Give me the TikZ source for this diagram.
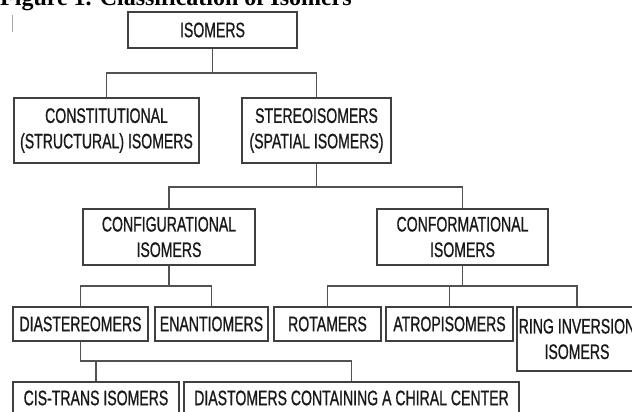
\documentclass[tikz,border=0pt]{standalone}
\usepackage{fontspec}
\newfontfamily\boxfont[FakeStretch=0.67,FakeBold=0.8]{Liberation Sans}
\newfontfamily\titlefont{Liberation Serif}
\begin{document}
\begin{tikzpicture}[x=1pt,y=-1pt,
  box/.style={draw=black!75, line width=1.4pt, rectangle, inner sep=0pt, align=center,
    text=black!90, font=\boxfont\fontsize{21}{25.5}\selectfont},
  link/.style={draw=black!68, line width=1.3pt}]
\useasboundingbox (0,0) rectangle (632,412);
\clip (0,0) rectangle (632,412);
\fill[white] (0,0) rectangle (632,412);
% title (cut at the top)
\node[anchor=base west, inner sep=0pt, font=\titlefont\bfseries\fontsize{24}{28}\selectfont] (title) at (0,6) {Figure 1. Classification of Isomers};
\draw[black!35, line width=1pt] (12,15) -- (12,32);
% boxes
\node[box, minimum width=169pt, minimum height=36pt] (iso) at (212.5,30) {ISOMERS};
\node[box, minimum width=185pt, minimum height=65pt] (cons) at (106.5,130.5) {CONSTITUTIONAL\\(STRUCTURAL) ISOMERS};
\node[box, minimum width=149pt, minimum height=65pt] (stereo) at (316.5,130.5) {STEREOISOMERS\\(SPATIAL ISOMERS)};
\node[box, minimum width=172pt, minimum height=56pt] (config) at (169,237) {CONFIGURATIONAL\\ISOMERS};
\node[box, minimum width=171pt, minimum height=56pt] (conf) at (462.5,237) {CONFORMATIONAL\\ISOMERS};
\node[box, minimum width=135pt, minimum height=34pt] (dia) at (80.5,324) {DIASTEREOMERS};
\node[box, minimum width=113pt, minimum height=34pt] (enan) at (211.5,324) {ENANTIOMERS};
\node[box, minimum width=107pt, minimum height=34pt] (rot) at (327.5,324) {ROTAMERS};
\node[box, minimum width=127pt, minimum height=34pt] (atro) at (449.5,324) {ATROPISOMERS};
\node[box, minimum width=120pt, minimum height=64pt] (ring) at (577,339) {RING INVERSION\\ISOMERS};
\node[box, minimum width=166pt, minimum height=32pt] (cis) at (96,398) {CIS-TRANS ISOMERS};
\node[box, minimum width=335pt, minimum height=32pt] (diast) at (351.5,398) {DIASTOMERS CONTAINING A CHIRAL CENTER};
% junctions
\coordinate (b1) at (212.5,73);
\coordinate (b2) at (316.5,187);
\coordinate (b3) at (169,286);
\coordinate (b4) at (462.5,286);
\coordinate (b5) at (80.5,361);
% connectors
\draw[link] (iso.south) -- (b1);
\draw[link] (cons.north) |- (b1) -| (stereo.north);
\draw[link] (stereo.south) -- (b2);
\draw[link] (config.north) |- (b2) -| (conf.north);
\draw[link] (config.south) -- (b3);
\draw[link] (dia.north) |- (b3) -| (enan.north);
\draw[link] (conf.south) -- (b4);
\draw[link] (rot.north) |- (b4) -| (ring.north);
\draw[link] (atro.north) -- (atro.north |- b4);
\draw[link] (dia.south) -- (b5) -| (diast.north);
\draw[link] (cis.north) -- (cis.north |- b5);
\end{tikzpicture}
\end{document}
